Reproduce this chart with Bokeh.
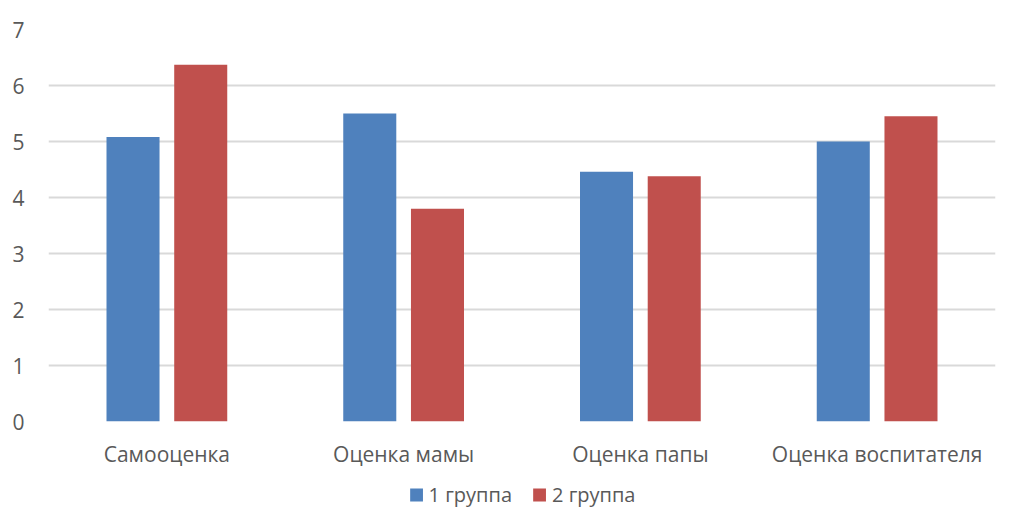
from bokeh.plotting import figure
from bokeh.layouts import column
from bokeh.models import ColumnDataSource, FactorRange, Legend, LegendItem, FixedTicker
from bokeh.transform import dodge
from bokeh.embed import file_html
from bokeh.resources import INLINE

categories = ["Самооценка", "Оценка мамы", "Оценка папы", "Оценка воспитателя"]
group1 = [5.08, 5.50, 4.46, 5.00]
group2 = [6.37, 3.80, 4.38, 5.45]
series_names = ["1 группа", "2 группа"]
y_ticks = [0, 1, 2, 3, 4, 5, 6, 7]

FONT = "Open Sans"
TXT = "#595959"
GRID = "#d9d9d9"
BLUE = "#4F81BD"
RED = "#C0504D"

src = ColumnDataSource(dict(cat=categories, g1=group1, g2=group2))

p = figure(x_range=FactorRange(*categories, range_padding=0), y_range=(0, 7),
           width=1003, height=470, output_backend="svg", toolbar_location=None,
           min_border_left=48, min_border_right=8, min_border_top=29, min_border_bottom=47)

r1 = p.vbar(x=dodge("cat", -0.143, range=p.x_range), top="g1", width=0.224, source=src,
            fill_color=BLUE, line_color=None)
r2 = p.vbar(x=dodge("cat", 0.143, range=p.x_range), top="g2", width=0.224, source=src,
            fill_color=RED, line_color=None)

p.outline_line_color = None
p.xgrid.grid_line_color = None
p.ygrid.grid_line_color = GRID
p.ygrid.grid_line_width = 2
p.yaxis.ticker = FixedTicker(ticks=y_ticks)

for ax in (p.xaxis[0], p.yaxis[0]):
    ax.axis_line_color = None
    ax.major_tick_line_color = None
    ax.minor_tick_line_color = None
    ax.major_tick_out = 0
    ax.major_tick_in = 0
    ax.major_label_text_font = FONT
    ax.major_label_text_font_size = "21px"
    ax.major_label_text_color = TXT

p.yaxis.major_label_standoff = 24
p.xaxis.major_label_standoff = 18

# Legend strip below the chart (its bars lie outside its visible y range)
lg = figure(x_range=FactorRange(*categories, range_padding=0), y_range=(100, 101),
            width=1003, height=48, output_backend="svg", toolbar_location=None,
            min_border_left=48, min_border_right=8, min_border_top=0, min_border_bottom=0)
lg.axis.visible = False
lg.grid.visible = False
lg.outline_line_color = None
l1 = lg.vbar(x="cat", top="g1", width=0.224, source=src, fill_color=BLUE, line_color=None)
l2 = lg.vbar(x="cat", top="g2", width=0.224, source=src, fill_color=RED, line_color=None)

legend = Legend(items=[LegendItem(label=series_names[0], renderers=[l1]),
                       LegendItem(label=series_names[1], renderers=[l2])],
                orientation="horizontal", location="center",
                glyph_width=16, glyph_height=16, label_standoff=5, spacing=19,
                label_text_font=FONT, label_text_font_size="20px", label_text_color=TXT,
                border_line_color=None, background_fill_alpha=0, padding=0, margin=0)
lg.add_layout(legend)

layout = column(p, lg, spacing=0)

open("out.html", "w").write(file_html(layout, INLINE))
